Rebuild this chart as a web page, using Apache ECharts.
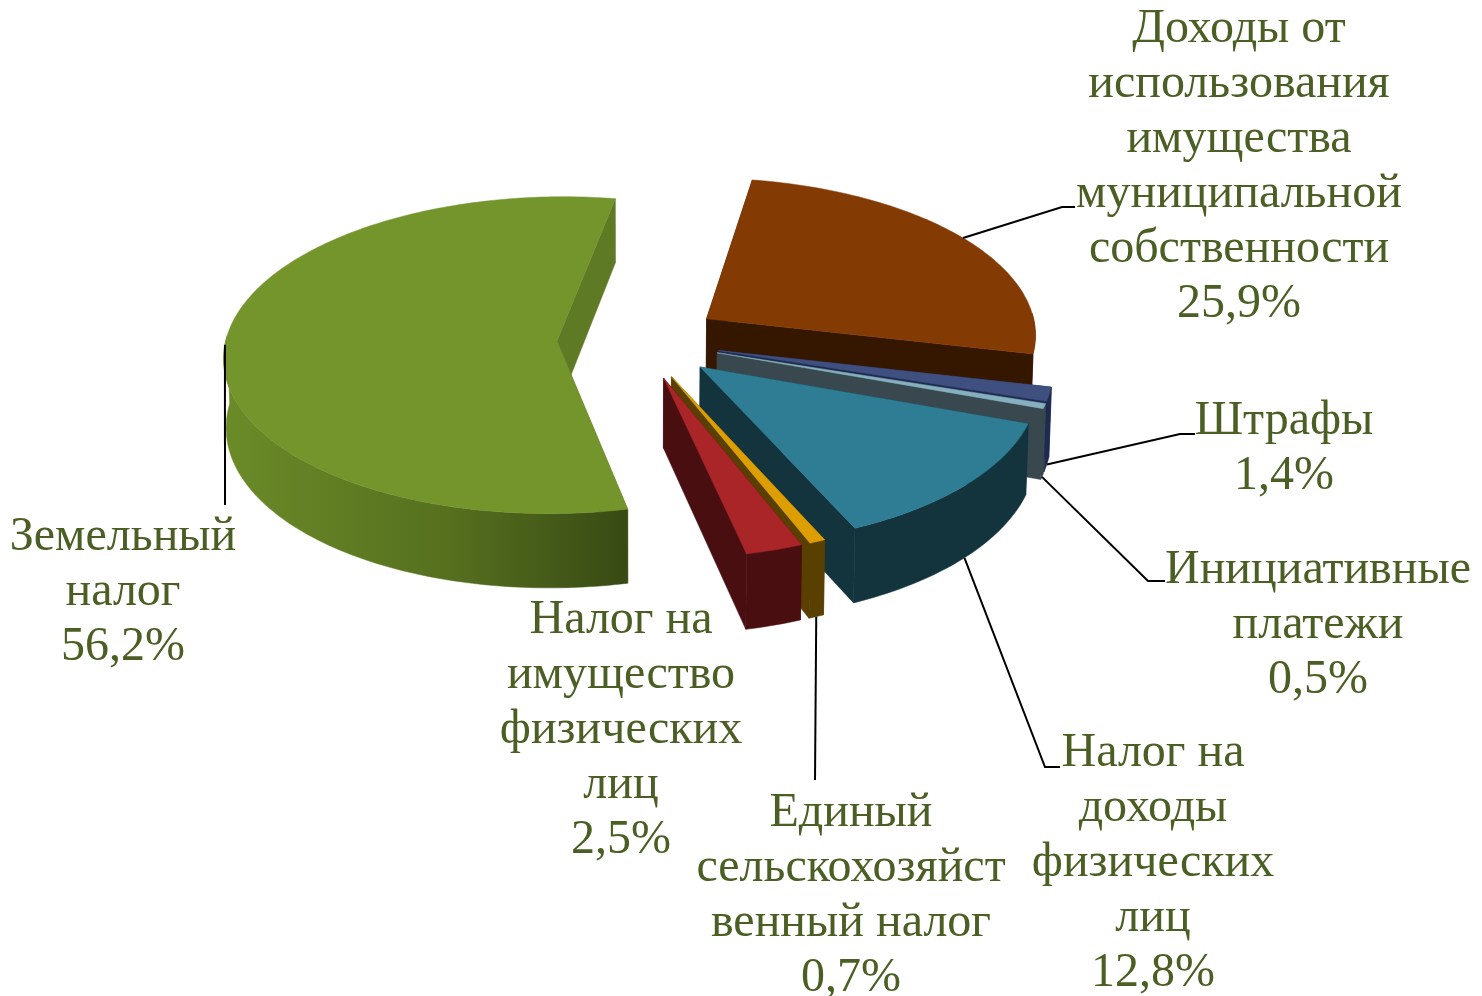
<!DOCTYPE html>
<html lang="ru">
<head>
<meta charset="utf-8">
<title>Структура доходов</title>
<style>
  html, body { margin: 0; padding: 0; background: #fff; }
  #chart { width: 1482px; height: 996px; }
</style>
</head>
<body>
<div id="chart"></div>
<script src="https://cdn.jsdelivr.net/npm/echarts@6/dist/echarts.min.js"></script>
<script>
// data
const categories = [
  'Доходы от\nиспользования\nимущества\nмуниципальной\nсобственности',
  'Штрафы',
  'Инициативные\nплатежи',
  'Налог на\nдоходы\nфизических\nлиц',
  'Единый\nсельскохозяйст\nвенный налог',
  'Налог на\nимущество\nфизических\nлиц',
  'Земельный\nналог'
]
const shares = [25.9, 1.4, 0.5, 12.8, 0.7, 2.5, 56.2]

// colours per slice
const topColors = ['#843a03', '#3f4f80', '#86b0c0', '#2f7d94', '#dd9e03', '#a92528', '#74952c']
const wallColors = ['#351700', '#1f2a50', '#38484e', '#13343d', '#5a4000', '#480e10', '#5f7a24']

// label centres in page pixels
const labelPos = [[1239, 167], [1284, 449], [1318, 625], [1153, 863], [851, 896], [621, 730], [123, 592]]
// leader lines: z level of the anchor on the slice, then the remaining bend points
const leaders = [
  { z: 0, points: [[1062, 207], [1075, 207]] },
  { z: 1, points: [[1180, 434], [1195, 434]] },
  { z: 1, points: [[1148, 581], [1165, 581]] },
  { z: 1, points: [[1045, 767], [1060, 767]] },
  { z: 1, points: [[815, 780]] },
  null,
  { z: 0, points: [[225, 505]] }
]

// projection of the tilted pie
const startAngle = 9.8
const explode = 0.248
const centerX = 639
const centerY = 340
const radiusX = 331
const radiusY = 157
const depth = 69
const perspective = 0.09
const perspectiveZ = 0.006

const rad = d => d * Math.PI / 180

function project(x, y, z) {
  const w = 1 + perspective * y + perspectiveZ * z
  return [centerX + radiusX * x / w, centerY + (depth * z - radiusY * y) / w]
}

// point on slice rim, r = 0 gives the exploded apex
function slicePoint(mid, angle, r, z) {
  const x = explode * Math.sin(rad(mid)) + r * Math.sin(rad(angle))
  const y = explode * Math.cos(rad(mid)) + r * Math.cos(rad(angle))
  return project(x, y, z)
}

function sliceAngles(index) {
  let before = 0
  for (let i = 0; i < index; i++) before += shares[i]
  const total = shares.reduce((a, b) => a + b, 0)
  const a0 = startAngle + before / total * 360
  const a1 = a0 + shares[index] / total * 360
  return [a0, a1, (a0 + a1) / 2]
}

function arcPoints(mid, a0, a1, z) {
  const pts = []
  const n = Math.max(2, Math.ceil(a1 - a0))
  for (let i = 0; i <= n; i++) pts.push(slicePoint(mid, a0 + (a1 - a0) * i / n, 1, z))
  return pts
}

function polygon(points, fill) {
  return { type: 'polygon', shape: { points: points }, style: { fill: fill, stroke: fill, lineWidth: 0.5 } }
}

function percentText(v) {
  return v.toFixed(1).replace('.', ',') + '%'
}

function renderSlice(params, api) {
  const i = api.value(0)
  const [a0, a1, mid] = sliceAngles(i)
  const children = []
  const apexTop = slicePoint(mid, 0, 0, 0)
  const apexBottom = slicePoint(mid, 0, 0, 1)

  // cut walls
  ;[a0, a1].forEach(a => {
    children.push(polygon([apexTop, slicePoint(mid, a, 1, 0), slicePoint(mid, a, 1, 1), apexBottom], wallColors[i]))
  })

  // outer wall, only the part facing the viewer
  const from = Math.max(a0, 88)
  const to = Math.min(a1, 272)
  if (to > from) {
    const top = arcPoints(mid, from, to, 0)
    const bottom = arcPoints(mid, from, to, 1).reverse()
    let fill = wallColors[i]
    if (i === shares.length - 1) {
      fill = new echarts.graphic.LinearGradient(0, 0, 1, 0, [
        { offset: 0, color: '#6b8b28' },
        { offset: 0.55, color: '#56701f' },
        { offset: 1, color: '#384a14' }
      ])
    }
    children.push(polygon(top.concat(bottom), fill))
  }

  // top face
  children.push(polygon([apexTop].concat(arcPoints(mid, a0, a1, 0)), topColors[i]))

  // leader line
  if (leaders[i]) {
    const start = slicePoint(mid, mid, 1, leaders[i].z)
    children.push({
      type: 'polyline',
      z2: 10,
      shape: { points: [start].concat(leaders[i].points) },
      style: { stroke: '#000', lineWidth: 2, fill: null }
    })
  }

  // label
  children.push({
    type: 'text',
    z2: 11,
    style: {
      text: categories[i] + '\n' + percentText(shares[i]),
      x: labelPos[i][0],
      y: labelPos[i][1],
      textAlign: 'center',
      textVerticalAlign: 'middle',
      font: '48px "Liberation Serif", serif',
      lineHeight: 55,
      fill: '#4b5f24'
    }
  })
  return { type: 'group', children: children }
}

const chart = echarts.init(document.getElementById('chart'), null, { renderer: 'canvas' })
chart.setOption({
  animation: false,
  backgroundColor: '#fff',
  series: [
    {
      type: 'custom',
      coordinateSystem: 'none',
      renderItem: renderSlice,
      data: shares.map((v, i) => [i, v])
    }
  ]
})
</script>
</body>
</html>
